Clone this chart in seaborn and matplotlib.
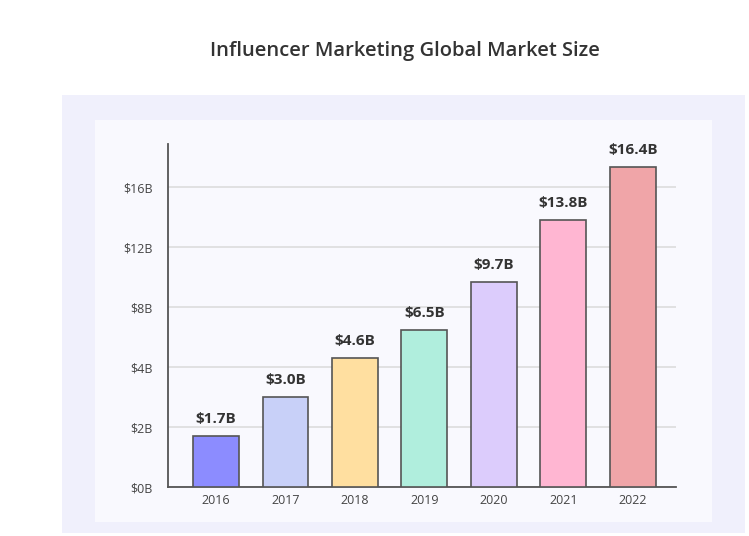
import numpy as np
import pandas as pd
import matplotlib
matplotlib.use("Agg")
import matplotlib.pyplot as plt
from matplotlib.patches import Rectangle
import seaborn as sns

# Veriler
yillar = ["2016", "2017", "2018", "2019", "2020", "2021", "2022"]
pazar_buyuklugu = [1.7, 3.0, 4.6, 6.5, 9.7, 13.8, 16.4]
etiketler = ["$1.7B", "$3.0B", "$4.6B", "$6.5B", "$9.7B", "$13.8B", "$16.4B"]
renkler = ["#8C8CFF", "#C8D0F8", "#FFDFA0", "#B0EEDD", "#DCCCFC", "#FFB6D2", "#F0A5A8"]
y_tikler = [0, 2, 4, 8, 12, 16]
y_tik_etiketleri = ["$0B", "$2B", "$4B", "$8B", "$12B", "$16B"]

# y ekseni esit aralikli tiklerle parcali olcek
knot_deger = [0, 2, 4, 8, 12, 16, 17.2]
knot_konum = [0, 1, 2, 3, 4, 5, 6]

def ileri(v):
    return np.interp(v, knot_deger, knot_konum, left=0, right=6)

def geri(u):
    return np.interp(u, knot_konum, knot_deger, left=0, right=17.2)

df = pd.DataFrame({"yil": yillar, "deger": pazar_buyuklugu})

sns.set_style("white")
plt.rcParams['font.family'] = ["Open Sans", "DejaVu Sans"]

fig = plt.figure(figsize=(7.49, 5.36), dpi=100)
fig.patch.set_facecolor("white")

# arka plan panelleri
fig.patches.append(Rectangle((0.0828, 0.0056), 0.912, 0.817, transform=fig.transFigure,
                             facecolor="#F0F0FC", edgecolor="none", zorder=-10))
fig.patches.append(Rectangle((0.1268, 0.0261), 0.8238, 0.75, transform=fig.transFigure,
                             facecolor="#F9F9FE", edgecolor="none", zorder=-9))

ax = fig.add_axes([0.2243, 0.0914, 0.6782, 0.6399])
ax.set_zorder(2)
ax.set_facecolor("#F9F9FE")

sns.barplot(data=df, x="yil", y="deger", hue="yil", palette=renkler, legend=False,
            saturation=1, width=0.66, edgecolor="#555555", linewidth=1.2, ax=ax, zorder=3)

ax.set_yscale("function", functions=(ileri, geri))
ax.set_ylim(0, geri(5.72))
ax.set_xlim(-0.69, 6.62)

ax.set_yticks(y_tikler)
ax.set_yticklabels(y_tik_etiketleri)
ax.yaxis.set_minor_locator(matplotlib.ticker.NullLocator())
ax.tick_params(axis="both", length=0, labelsize=9, colors="#444444")
ax.tick_params(axis="x", pad=5)
ax.tick_params(axis="y", pad=11)
ax.grid(axis="y", color="#DADADA", linewidth=1.1, zorder=0)
ax.set_axisbelow(True)
ax.set_xlabel("")
ax.set_ylabel("")

for s in ["top", "right"]:
    ax.spines[s].set_visible(False)
for s in ["left", "bottom"]:
    ax.spines[s].set_color("#555555")
    ax.spines[s].set_linewidth(1.3)

for i, (v, t) in enumerate(zip(pazar_buyuklugu, etiketler)):
    ax.annotate(t, (i, v), xytext=(0, 7), textcoords="offset points",
                ha="center", va="bottom", fontsize=11, fontweight="bold", color="#333333")

fig.text(0.54, 0.905, "Influencer Marketing Global Market Size", ha="center", va="center",
         fontsize=14.5, fontweight="semibold", color="#333333")

fig.savefig("out.png", dpi=100)
